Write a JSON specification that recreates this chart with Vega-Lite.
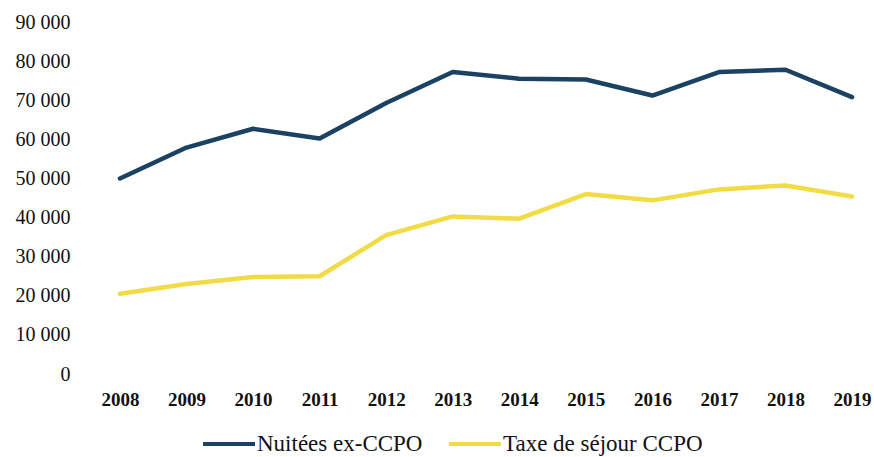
{
  "$schema": "https://vega.github.io/schema/vega-lite/v6.json",
  "autosize": {"type": "none"},
  "width": 772,
  "height": 352,
  "padding": {"left": 100, "top": 22, "right": 2, "bottom": 83},
  "background": "white",
  "config": {
    "view": {"stroke": null},
    "font": "Liberation Serif, DejaVu Serif, serif",
    "locale": {"number": {"decimal": ",", "thousands": " ", "grouping": [3], "currency": ["", " €"]}}
  },
  "data": {
    "values": [
      {"annee": "2008", "serie": "Nuitées ex-CCPO", "valeur": 50000},
      {"annee": "2009", "serie": "Nuitées ex-CCPO", "valeur": 57900},
      {"annee": "2010", "serie": "Nuitées ex-CCPO", "valeur": 62700},
      {"annee": "2011", "serie": "Nuitées ex-CCPO", "valeur": 60200},
      {"annee": "2012", "serie": "Nuitées ex-CCPO", "valeur": 69300},
      {"annee": "2013", "serie": "Nuitées ex-CCPO", "valeur": 77200},
      {"annee": "2014", "serie": "Nuitées ex-CCPO", "valeur": 75500},
      {"annee": "2015", "serie": "Nuitées ex-CCPO", "valeur": 75300},
      {"annee": "2016", "serie": "Nuitées ex-CCPO", "valeur": 71200},
      {"annee": "2017", "serie": "Nuitées ex-CCPO", "valeur": 77200},
      {"annee": "2018", "serie": "Nuitées ex-CCPO", "valeur": 77800},
      {"annee": "2019", "serie": "Nuitées ex-CCPO", "valeur": 70800},
      {"annee": "2008", "serie": "Taxe de séjour CCPO", "valeur": 20500},
      {"annee": "2009", "serie": "Taxe de séjour CCPO", "valeur": 23000},
      {"annee": "2010", "serie": "Taxe de séjour CCPO", "valeur": 24800},
      {"annee": "2011", "serie": "Taxe de séjour CCPO", "valeur": 25000},
      {"annee": "2012", "serie": "Taxe de séjour CCPO", "valeur": 35500},
      {"annee": "2013", "serie": "Taxe de séjour CCPO", "valeur": 40300},
      {"annee": "2014", "serie": "Taxe de séjour CCPO", "valeur": 39700},
      {"annee": "2015", "serie": "Taxe de séjour CCPO", "valeur": 46000},
      {"annee": "2016", "serie": "Taxe de séjour CCPO", "valeur": 44400},
      {"annee": "2017", "serie": "Taxe de séjour CCPO", "valeur": 47200},
      {"annee": "2018", "serie": "Taxe de séjour CCPO", "valeur": 48200},
      {"annee": "2019", "serie": "Taxe de séjour CCPO", "valeur": 45400}
    ]
  },
  "mark": {"type": "line", "strokeWidth": 4.5, "strokeCap": "round", "strokeJoin": "round"},
  "encoding": {
    "x": {
      "field": "annee",
      "type": "ordinal",
      "scale": {"type": "point", "padding": 0.3},
      "axis": {
        "title": null,
        "labelAngle": 0,
        "domain": false,
        "ticks": false,
        "grid": false,
        "labelFont": "Liberation Serif, DejaVu Serif, serif",
        "labelFontSize": 19,
        "labelFontWeight": "bold",
        "labelColor": "#111111",
        "labelPadding": 16
      }
    },
    "y": {
      "field": "valeur",
      "type": "quantitative",
      "scale": {"domain": [0, 90000]},
      "axis": {
        "title": null,
        "values": [0, 10000, 20000, 30000, 40000, 50000, 60000, 70000, 80000, 90000],
        "format": ",d",
        "domain": false,
        "ticks": false,
        "grid": false,
        "labelFont": "Liberation Serif, DejaVu Serif, serif",
        "labelFontSize": 20,
        "labelColor": "#111111",
        "labelPadding": 30
      }
    },
    "color": {
      "field": "serie",
      "type": "nominal",
      "scale": {"domain": ["Nuitées ex-CCPO", "Taxe de séjour CCPO"], "range": ["#1b4263", "#f2dc45"]},
      "legend": {
        "title": null,
        "orient": "none",
        "direction": "horizontal",
        "legendX": 101,
        "legendY": 394,
        "symbolType": "stroke",
        "symbolSize": 2700,
        "symbolStrokeWidth": 4,
        "labelFont": "Liberation Serif, DejaVu Serif, serif",
        "labelFontSize": 23,
        "labelLimit": 400,
        "labelColor": "#111111",
        "labelOffset": 0,
        "columnPadding": 18
      }
    }
  }
}
